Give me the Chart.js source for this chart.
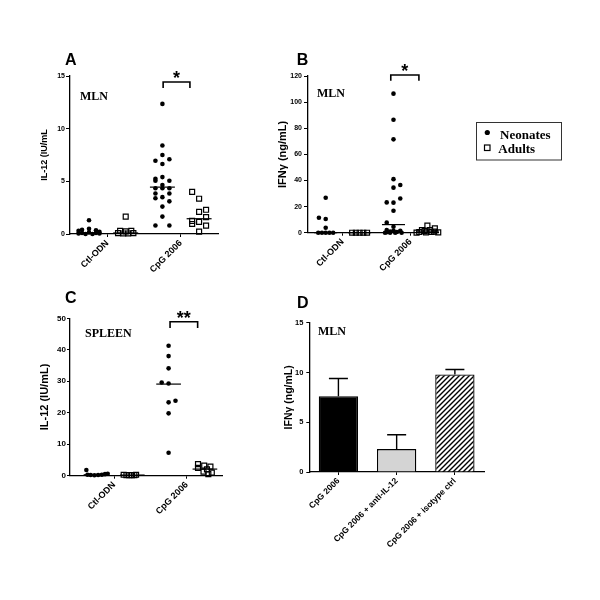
<!DOCTYPE html>
<html>
<head>
<meta charset="utf-8">
<script src="https://cdn.jsdelivr.net/npm/chart.js@4.4.0/dist/chart.umd.min.js"></script>
<style>
  html, body { margin: 0; padding: 0; background: #fff; }
  #page { position: relative; width: 600px; height: 600px; }
  #page canvas { position: absolute; left: 0; top: 0; }
</style>
</head>
<body>
<div id="page">
  <canvas id="chartA" width="600" height="600"></canvas>
  <canvas id="chartB" width="600" height="600"></canvas>
  <canvas id="chartC" width="600" height="600"></canvas>
  <canvas id="chartD" width="600" height="600"></canvas>
</div>
<script>
// --- Data ---
const groupLabels = ["Ctl-ODN", "CpG 2006"];

// A: IL-12, MLN (groups: Ctl neonates, Ctl adults, CpG neonates, CpG adults)
const aCtlNeo = [1.3, 0.5, 0.4, 0.35, 0.3, 0.2, 0.15, 0.1, 0.1, 0.05, 0.05, 0, 0];
const aCtlNeoSlot = [0, 0, -1, 1, -1.5, 1.5, 0, -1, 1, -1.5, 1.5, -0.5, 0.5];
const aCtlAd = [1.65, 0.3, 0.25, 0.3, 0.08, 0.05, 0.05, 0.08];
const aCtlAdSlot = [0, -0.8, 0, 0.8, -1.1, -0.35, 0.35, 1.1];
const aCpgNeo = [12.35, 8.4, 7.5, 7.1, 6.95, 6.65, 5.4, 5.25, 5.05, 5.05, 4.65, 4.35, 4.35, 4.35, 3.85, 3.85, 3.5, 3.4, 3.1, 2.6, 1.65, 0.8, 0.8];
const aCpgNeoSlot = [0, 0, 0, 1, -1, 0, 0, -1, -1, 1, 0, -1, 0, 1, -1, 1, 0, -1, 1, 0, 0, -1, 1];
const aCpgAd = [4.0, 3.35, 2.1, 2.3, 1.6, 1.25, 1.15, 0.95, 0.8, 0.22];
const aCpgAdSlot = [-1, 0, 0, 1, 1, -1, 0, -1, 1, 0];
const aMedians = [0.1, 0.1, 4.45, 1.45];

// B: IFN-gamma, MLN
const bCtlNeo = [26.8, 11.5, 10.5, 3.8, 0, 0, 0, 0, 0];
const bCtlNeoSlot = [0, -1, 0, 0, -1.1, -0.55, 0, 0.55, 1.1];
const bCtlAd = [0, 0, 0, 0, 0];
const bCtlAdSlot = [-1.1, -0.55, 0, 0.55, 1.1];
const bCpgNeo = [106.5, 86.5, 71.5, 41, 36.5, 34.5, 26.2, 23.2, 23, 16.8, 7.7, 4.6, 2, 1.5, 1.5, 0.8, 0.5, 0.3, 0, 0, 0, 0];
const bCpgNeoSlot = [0, 0, 0, 0, 1, 0, 1, -1, 0, 0, -1, 0, -1, 0, 1, -0.5, 0.5, -1, -1.25, -0.5, 0.25, 1.2];
const bCpgAd = [5.4, 3.3, 2, 2, 1.2, 0.8, 0.5, 0.5, 0.3, 0.2, 0.1];
const bCpgAdSlot = [0, 1.1, -0.8, 0.4, -0.4, 1, -1.2, 0.6, -0.2, 1.6, -1.6];
const bMedians = [0, 0, 6.2, 1.2];

// C: IL-12, spleen
const cCtlNeo = [1.8, 0.3, 0.2, 0.15, 0.2, 0.3, 0.5, 0.6];
const cCtlNeoSlot = [-1.4, -1.23, -0.77, -0.23, 0.31, 0.85, 1.31, 1.7];
const cCtlAd = [0.3, 0.2, 0.2, 0.2, 0.2, 0.3];
const cCtlAdSlot = [-1.25, -0.85, -0.45, -0.05, 0.3, 0.55];
const cCpgNeo = [41.3, 38, 34.1, 29.6, 29.3, 23.8, 23.3, 19.8, 7.3];
const cCpgNeoSlot = [0, 0, 0, -1, 0, 1, 0, 0, 0];
const cCpgAd = [3.7, 3.2, 2.9, 2.5, 2.0, 1.3, 1.0, 0.5];
const cCpgAdSlot = [-1, -0.1, 0.8, -1, 0.3, -0.2, 1.0, 0.5];
const cMedians = [0.3, 0.2, 29.1, 2.1];

// D: IFN-gamma bars, MLN
const dLabels = ["CpG 2006", "CpG 2006 + anti-IL-12", "CpG 2006 + isotype ctrl"];
const dValues = [7.6, 2.3, 9.8];
const dErrors = [1.8, 1.45, 0.5];

// --- Common ---
const sans = "'Liberation Sans', Arial, sans-serif";
const serif = "'Liberation Serif', 'Times New Roman', serif";
Chart.defaults.font.family = sans;
Chart.defaults.color = "#000";
const X_AXIS_H = 120;

function groupPoints(vals, slots, center, step) {
    return vals.map((v, i) => ({ x: center + slots[i] * step, y: v }));
}

function textMarks(items) {
    return {
        id: "textMarks",
        afterDraw(chart) {
            const ctx = chart.ctx;
            ctx.save();
            ctx.fillStyle = "#000";
            ctx.textBaseline = "alphabetic";
            ctx.textAlign = "left";
            items.forEach(t => { ctx.font = t.font; ctx.fillText(t.text, t.x, t.y); });
            ctx.restore();
        }
    };
}

function bracketMark(b) {
    return {
        id: "bracket",
        afterDatasetsDraw(chart) {
            const { ctx, scales: { x, y } } = chart;
            const x1 = x.getPixelForValue(b.from), x2 = x.getPixelForValue(b.to);
            const yt = y.getPixelForValue(b.top), yb = y.getPixelForValue(b.foot);
            ctx.save();
            ctx.strokeStyle = "#000";
            ctx.lineWidth = 1.6;
            ctx.beginPath();
            ctx.moveTo(x1, yb); ctx.lineTo(x1, yt); ctx.lineTo(x2, yt); ctx.lineTo(x2, yb);
            ctx.stroke();
            ctx.fillStyle = "#000";
            ctx.font = "bold 18px " + sans;
            ctx.textAlign = "center";
            ctx.textBaseline = "alphabetic";
            ctx.fillText(b.label, (x1 + x2) / 2, yt + 2);
            ctx.restore();
        }
    };
}

function legendMark() {
    return {
        id: "legendBox",
        afterDraw(chart) {
            const ctx = chart.ctx;
            ctx.save();
            ctx.strokeStyle = "#333";
            ctx.lineWidth = 1;
            ctx.strokeRect(476.5, 122.5, 85, 37.5);
            ctx.fillStyle = "#000";
            ctx.beginPath(); ctx.arc(487.3, 132.5, 2.6, 0, Math.PI * 2); ctx.fill();
            ctx.lineWidth = 1.2;
            ctx.strokeStyle = "#000";
            ctx.strokeRect(484.5, 145, 5.5, 5.5);
            ctx.font = "bold 13px " + serif;
            ctx.fillText("Neonates", 500, 138.5);
            ctx.fillText("Adults", 498.3, 152.5);
            ctx.restore();
        }
    };
}

function axisStyle(tickLen) {
    return {
        grid: { drawOnChartArea: false, tickLength: tickLen, color: "#000", lineWidth: 1 },
        border: { color: "#000", width: 1.3 }
    };
}

function scatterChart(id, p) {
    const datasets = [];
    p.groups.forEach((g, gi) => {
        const adult = gi % 2 === 1;
        datasets.push({
            data: groupPoints(g[0], g[1], gi + 1, p.step),
            pointStyle: adult ? "rect" : "circle",
            pointRadius: adult ? 3.5 : 2.3,
            pointBackgroundColor: adult ? "rgba(0,0,0,0)" : "#000",
            pointBorderColor: "#000",
            pointBorderWidth: adult ? 1.2 : 0,
            clip: false
        });
        datasets.push({
            data: [{ x: gi + 1 - 0.34, y: p.medians[gi] }, { x: gi + 1 + 0.34, y: p.medians[gi] }],
            showLine: true, borderColor: "#000", borderWidth: 1.2, pointRadius: 0, clip: false
        });
    });
    return new Chart(document.getElementById(id), {
        type: "scatter",
        data: { datasets },
        plugins: p.plugins,
        options: {
            responsive: false, animation: false, events: [],
            layout: { autoPadding: false, padding: { left: p.area[0] - p.yW, top: p.area[1], right: 600 - p.area[2], bottom: 600 - p.area[3] - X_AXIS_H } },
            plugins: { legend: { display: false }, tooltip: { enabled: false } },
            scales: {
                x: Object.assign({
                    type: "linear", min: p.xMin, max: p.xMax,
                    afterBuildTicks: s => { s.ticks = [{ value: 1.5 }, { value: 3.5 }]; },
                    afterFit: s => { s.height = X_AXIS_H; s.paddingLeft = 0; s.paddingRight = 0; },
                    ticks: { callback: (v, i) => groupLabels[i], autoSkip: false, minRotation: 45, maxRotation: 45, padding: 1, font: { size: p.xFont, weight: "bold" } }
                }, axisStyle(3)),
                y: Object.assign({
                    min: 0, max: p.yMax,
                    afterFit: s => { s.width = p.yW; s.paddingTop = 0; s.paddingBottom = 0; },
                    ticks: { stepSize: p.yStep, padding: p.tickPad, font: { size: p.yFont, weight: "bold" } },
                    title: { display: true, text: p.yTitle, padding: 0, font: { size: p.titleFont, weight: "bold" } }
                }, axisStyle(p.tickLen))
            }
        }
    });
}

// --- Panel A ---
scatterChart("chartA", {
    groups: [[aCtlNeo, aCtlNeoSlot], [aCtlAd, aCtlAdSlot], [aCpgNeo, aCpgNeoSlot], [aCpgAd, aCpgAdSlot]],
    medians: aMedians, step: 0.19,
    area: [70, 76, 218, 234], yW: 30.4, xMin: 0.482, xMax: 4.515,
    yMax: 15, yStep: 5, yTitle: "IL-12 (IU/mL", titleFont: 9, yFont: 7, xFont: 9, tickLen: 4, tickPad: 1,
    plugins: [
        bracketMark({ from: 3.02, to: 3.75, top: 14.43, foot: 13.87, label: "*" }),
        textMarks([
            { text: "A", x: 65, y: 65, font: "bold 16px " + sans },
            { text: "MLN", x: 80, y: 100, font: "bold 12px " + serif }
        ])
    ]
});

// --- Panel B ---
scatterChart("chartB", {
    groups: [[bCtlNeo, bCtlNeoSlot], [bCtlAd, bCtlAdSlot], [bCpgNeo, bCpgNeoSlot], [bCpgAd, bCpgAdSlot]],
    medians: bMedians, step: 0.2,
    area: [308, 76, 438, 232.7], yW: 31.3, xMin: 0.478, xMax: 4.313,
    yMax: 120, yStep: 20, yTitle: "IFNγ (ng/mL)", titleFont: 11, yFont: 7, xFont: 9, tickLen: 4, tickPad: 2,
    plugins: [
        bracketMark({ from: 2.92, to: 3.75, top: 120.8, foot: 116.4, label: "*" }),
        textMarks([
            { text: "B", x: 296.7, y: 65, font: "bold 16px " + sans },
            { text: "MLN", x: 317, y: 96.7, font: "bold 12px " + serif }
        ]),
        legendMark()
    ]
});

// --- Panel C ---
scatterChart("chartC", {
    groups: [[cCtlNeo, cCtlNeoSlot], [cCtlAd, cCtlAdSlot], [cCpgNeo, cCpgNeoSlot], [cCpgAd, cCpgAdSlot]],
    medians: cMedians, step: 0.19,
    area: [70, 318.3, 222, 475.7], yW: 31.6, xMin: 0.284, xMax: 4.471,
    yMax: 50, yStep: 10, yTitle: "IL-12 (IU/mL)", titleFont: 11, yFont: 8, xFont: 9, tickLen: 3, tickPad: 1,
    plugins: [
        bracketMark({ from: 3.04, to: 3.8, top: 48.9, foot: 46.9, label: "**" }),
        textMarks([
            { text: "C", x: 65, y: 303, font: "bold 16px " + sans },
            { text: "SPLEEN", x: 85, y: 337.3, font: "bold 12px " + serif }
        ])
    ]
});

// --- Panel D ---
const hatchTile = document.createElement("canvas");
hatchTile.width = 5; hatchTile.height = 5;
const hg = hatchTile.getContext("2d");
hg.fillStyle = "#fff"; hg.fillRect(0, 0, 5, 5);
hg.strokeStyle = "#000"; hg.lineWidth = 1.4;
hg.beginPath();
hg.moveTo(0, 5); hg.lineTo(5, 0);
hg.moveTo(-1, 1); hg.lineTo(1, -1);
hg.moveTo(4, 6); hg.lineTo(6, 4);
hg.stroke();
const hatch = hg.createPattern(hatchTile, "repeat");

const errorBars = {
    id: "errorBars",
    afterDatasetsDraw(chart) {
        const ctx = chart.ctx, y = chart.scales.y;
        const meta = chart.getDatasetMeta(0);
        ctx.save();
        ctx.strokeStyle = "#000";
        ctx.lineWidth = 1.4;
        ctx.beginPath();
        meta.data.forEach((bar, i) => {
            const top = y.getPixelForValue(dValues[i] + dErrors[i]);
            ctx.moveTo(bar.x, bar.y); ctx.lineTo(bar.x, top);
            ctx.moveTo(bar.x - 9.5, top); ctx.lineTo(bar.x + 9.5, top);
        });
        ctx.stroke();
        ctx.restore();
    }
};

const dArea = [309.3, 322.7, 484, 472], dYW = 26.3;
new Chart(document.getElementById("chartD"), {
    type: "bar",
    data: {
        labels: dLabels,
        datasets: [{
            data: dValues,
            backgroundColor: ["#000", "#d4d4d4", hatch],
            borderColor: "#000", borderWidth: 1.3,
            barPercentage: 0.675, categoryPercentage: 1
        }]
    },
    plugins: [
        errorBars,
        textMarks([
            { text: "D", x: 297, y: 308, font: "bold 16px " + sans },
            { text: "MLN", x: 318, y: 335, font: "bold 12px " + serif }
        ])
    ],
    options: {
        responsive: false, animation: false, events: [],
        layout: { autoPadding: false, padding: { left: dArea[0] - dYW, top: dArea[1], right: 600 - dArea[2], bottom: 600 - dArea[3] - X_AXIS_H } },
        plugins: { legend: { display: false }, tooltip: { enabled: false } },
        scales: {
            x: {
                afterFit: s => { s.height = X_AXIS_H; s.paddingLeft = 0; s.paddingRight = 0; },
                ticks: { autoSkip: false, minRotation: 45, maxRotation: 45, padding: 1, font: { size: 8.5, weight: "bold" } },
                grid: { offset: false, drawOnChartArea: false, tickLength: 3, color: "#000", lineWidth: 1 },
                border: { color: "#000", width: 1.3 }
            },
            y: Object.assign({
                min: 0, max: 15,
                afterFit: s => { s.width = dYW; s.paddingTop = 0; s.paddingBottom = 0; },
                ticks: { stepSize: 5, padding: 3, font: { size: 7.5, weight: "bold" } },
                title: { display: true, text: "IFNγ (ng/mL)", padding: 0, font: { size: 10.5, weight: "bold" } }
            }, axisStyle(3))
        }
    }
});
</script>
</body>
</html>
